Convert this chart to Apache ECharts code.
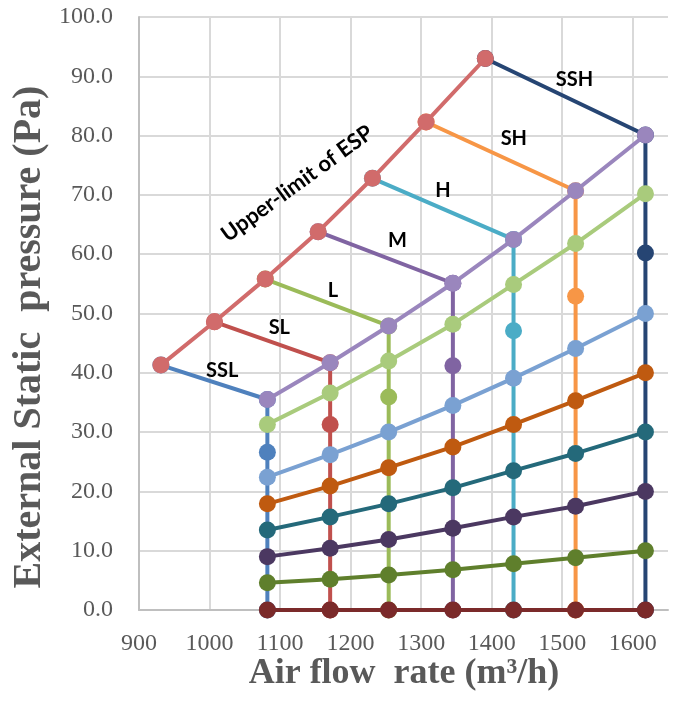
<!DOCTYPE html>
<html>
<head>
<meta charset="utf-8">
<script src="https://cdn.jsdelivr.net/npm/echarts@6/dist/echarts.min.js"></script>
<style>
  html, body { margin: 0; padding: 0; background: #ffffff; }
  #chart { width: 686px; height: 704px; }
</style>
</head>
<body>
<div id="chart"></div>
<script>
// Fan speed taps and the air flow delivered at each tap (m3/h)
const modes = ['SSL', 'SL', 'L', 'M', 'H', 'SH', 'SSH'];
const airflow = [1082, 1171, 1254, 1345, 1431, 1519, 1618];

// Upper limit of external static pressure for each tap
const limitFlow = [931, 1007, 1079, 1154, 1231, 1307, 1391];
const limitPressure = [41.3, 48.6, 55.8, 63.8, 72.8, 82.3, 93.0];

// System resistance curves crossing the taps (Pa), highest first
const curveTop = [35.5, 41.7, 47.9, 55.1, 62.5, 70.7, 80.1];
const curve70 = [31.3, 36.6, 42.0, 48.2, 54.9, 61.8, 70.2];
const curve60 = [26.6, 31.3, 35.9, 41.2, 47.1, 52.9, 60.2];
const curve50 = [22.4, 26.2, 30.0, 34.5, 39.1, 44.1, 50.0];
const curve40 = [17.9, 20.9, 24.0, 27.5, 31.3, 35.3, 40.0];
const curve30 = [13.5, 15.7, 17.9, 20.6, 23.5, 26.4, 30.0];
const curve20 = [9.0, 10.4, 11.9, 13.8, 15.7, 17.5, 20.0];
const curve10 = [4.6, 5.2, 5.9, 6.8, 7.8, 8.8, 10.0];
const curve0 = [0, 0, 0, 0, 0, 0, 0];

// Axis ranges
const xRange = { min: 900, max: 1650, step: 100 };
const yRange = { min: 0, max: 100, step: 10 };

// ---- styling ----
const modeColors = ['#4f81bd', '#c0504d', '#9bbb59', '#8064a2', '#4bacc6', '#f79646', '#264573'];
const curveStyles = [
  { data: curve0, color: '#7b2a2a' },
  { data: curve10, color: '#5f7f2c' },
  { data: curve20, color: '#4b3861' },
  { data: curve30, color: '#24697a' },
  { data: curve40, color: '#bf5a10' },
  { data: curve50, color: '#7aa1d2' },
  { data: curve70, color: '#a9cb7c' },
  { data: curveTop, color: '#9a86bd' }
];
const limitColor = '#d16b6b';
const labelOffsets = [[8, -12], [7, -15], [6, -12], [12, -17], [0, -18], [13, -18], [9, -17]];
const serif = '"Liberation Serif", "Times New Roman", serif';
const labelFont = 'Lato, "Open Sans", sans-serif';

function pairs(xs, ys) { return xs.map((x, i) => [x, ys[i]]); }

function lineSeries(name, data, color, z) {
  return {
    name, type: 'line', data, z,
    symbol: 'circle', symbolSize: 17, showSymbol: true,
    lineStyle: { color, width: 4 },
    itemStyle: { color },
    emphasis: { disabled: true },
    animation: false
  };
}

const series = [];
// Each tap: from its limit point to the top curve, then straight down to zero
modes.forEach((m, i) => {
  const x = airflow[i];
  series.push(lineSeries(m, [
    [limitFlow[i], limitPressure[i]],
    [x, curveTop[i]],
    [x, curve60[i]],
    [x, curve0[i]]
  ], modeColors[i], 2));
});
curveStyles.forEach((c, k) => {
  series.push(lineSeries('curve' + k, pairs(airflow, c.data), c.color, 3));
});
series.push(lineSeries('Upper-limit of ESP', pairs(limitFlow, limitPressure), limitColor, 4));

const chart = echarts.init(document.getElementById('chart'), null, { renderer: 'canvas' });

chart.setOption({
  animation: false,
  backgroundColor: '#ffffff',
  grid: { left: 139, right: 18, top: 17, bottom: 94, containLabel: false, outerBoundsMode: 'none' },
  xAxis: {
    type: 'value', min: xRange.min, max: xRange.max, interval: xRange.step,
    axisLine: { show: true, lineStyle: { color: '#bfbfbf', width: 2 } },
    axisTick: { show: false },
    axisLabel: {
      showMaxLabel: false, margin: 22,
      color: '#595959', fontFamily: serif, fontSize: 24,
      formatter: v => String(v)
    },
    splitLine: { show: true, showMaxLine: false, lineStyle: { color: '#d9d9d9', width: 2 } }
  },
  yAxis: {
    type: 'value', min: yRange.min, max: yRange.max, interval: yRange.step,
    axisLine: { show: true, lineStyle: { color: '#bfbfbf', width: 2 } },
    axisTick: { show: false },
    axisLabel: {
      margin: 26, color: '#595959', fontFamily: serif, fontSize: 24,
      formatter: v => v.toFixed(1)
    },
    splitLine: { show: true, lineStyle: { color: '#d9d9d9', width: 2 } }
  },
  series
});

// Text placed relative to the plotted data
const toPx = p => chart.convertToPixel({ gridIndex: 0 }, p);
const graphics = [];
modes.forEach((m, i) => {
  const mid = toPx([(limitFlow[i] + airflow[i]) / 2, (limitPressure[i] + curveTop[i]) / 2]);
  graphics.push({
    type: 'text', x: mid[0] + labelOffsets[i][0], y: mid[1] + labelOffsets[i][1], z: 10,
    style: { text: m, font: 'bold 20px ' + labelFont, fill: '#000000', textAlign: 'center', textVerticalAlign: 'middle' }
  });
});
const anchor = toPx([limitFlow[3], limitPressure[3]]);
graphics.push({
  type: 'text', x: anchor[0] - 21, y: anchor[1] - 48, rotation: 36 * Math.PI / 180, z: 10,
  style: { text: 'Upper-limit of ESP', font: 'bold 22px ' + labelFont, fill: '#000000', textAlign: 'center', textVerticalAlign: 'middle' }
});
// Axis titles
graphics.push({
  type: 'text', x: 30, y: 337, rotation: Math.PI / 2, z: 10,
  style: { text: 'External Static  pressure (Pa)', font: 'bold 40px ' + serif, fill: '#595959', textAlign: 'center', textVerticalAlign: 'middle' }
});
graphics.push({
  type: 'text', x: 404, y: 674, z: 10,
  style: { text: 'Air flow  rate (m\u00B3/h)', font: 'bold 36px ' + serif, fill: '#595959', textAlign: 'center', textVerticalAlign: 'middle' }
});
chart.setOption({ graphic: graphics });
</script>
</body>
</html>
